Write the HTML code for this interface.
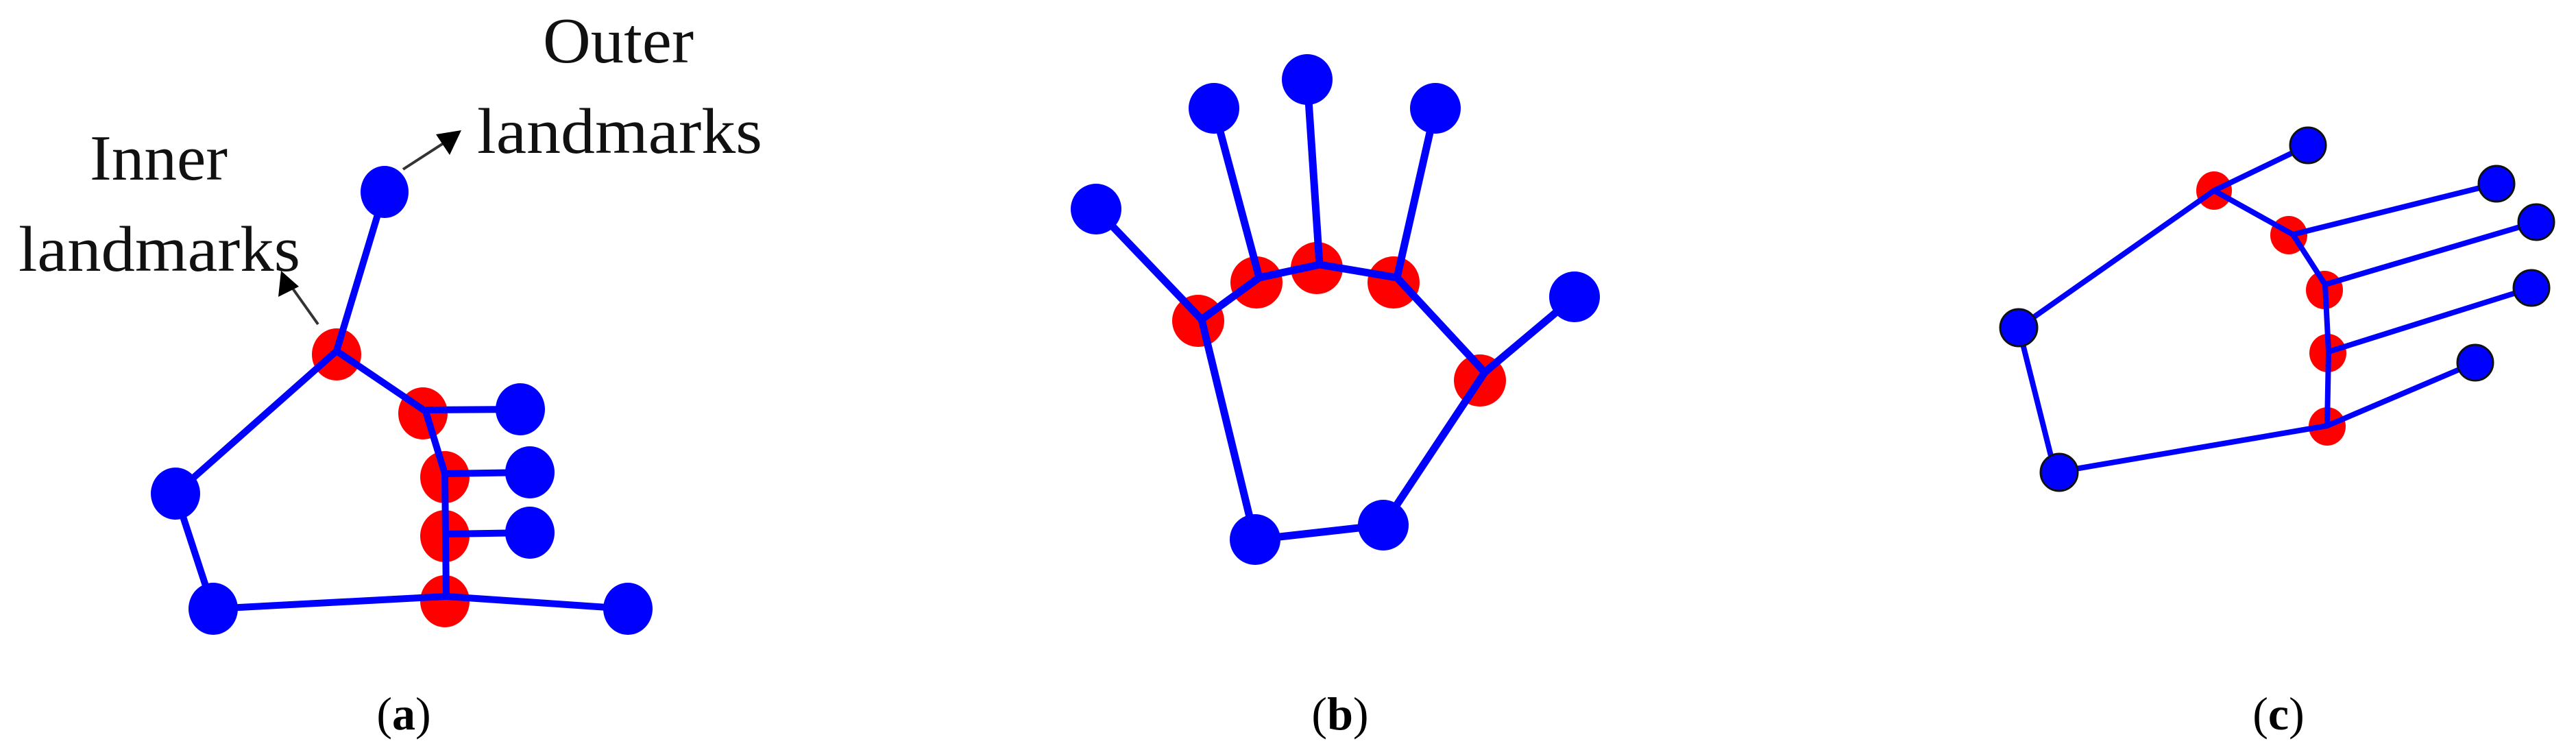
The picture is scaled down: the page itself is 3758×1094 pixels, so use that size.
<!DOCTYPE html>
<html><head><meta charset="utf-8"><style>html,body{margin:0;padding:0;background:#fff}svg{display:block}</style></head>
<body>
<svg width="3758" height="1094" viewBox="0 0 3758 1094" xmlns="http://www.w3.org/2000/svg">
<g font-family="'Liberation Serif', serif" fill="#111">
<text x="792" y="91" font-size="94" textLength="220" lengthAdjust="spacingAndGlyphs">Outer</text>
<text x="696" y="223" font-size="94" textLength="416" lengthAdjust="spacingAndGlyphs">landmarks</text>
<text x="131" y="262" font-size="94" textLength="201" lengthAdjust="spacingAndGlyphs">Inner</text>
<text x="27" y="395" font-size="94" textLength="411" lengthAdjust="spacingAndGlyphs">landmarks</text>
</g>
<line x1="588" y1="247" x2="650" y2="207" stroke="#333" stroke-width="4"/>
<polygon points="673,190 636,196 656,226" fill="#000"/>
<line x1="464" y1="473" x2="425" y2="418" stroke="#333" stroke-width="4"/>
<polygon points="410,395 406,433 436,418" fill="#000"/>

<g fill="#ff0000">
<ellipse cx="491" cy="517" rx="36" ry="38"/>
<ellipse cx="617" cy="603" rx="36" ry="38"/>
<ellipse cx="649" cy="696" rx="36" ry="38"/>
<ellipse cx="649" cy="782" rx="36" ry="38"/>
<ellipse cx="649" cy="877" rx="36" ry="38"/>
</g>
<g stroke="#0000ff" stroke-width="10" fill="none" stroke-linejoin="round">
<polyline points="491,512 621,600 649,691 651,870"/>
<polyline points="491,512 256,720 311,888"/>
<line x1="561" y1="280" x2="491" y2="512"/>
<line x1="311" y1="888" x2="651" y2="870"/>
<line x1="651" y1="870" x2="916" y2="888"/>
<line x1="621" y1="598" x2="759" y2="597"/>
<line x1="649" y1="691" x2="773" y2="689"/>
<line x1="651" y1="779" x2="773" y2="777"/>
</g>
<g fill="#0000ff">
<ellipse cx="561" cy="280" rx="35" ry="38"/>
<ellipse cx="759" cy="597" rx="36" ry="38"/>
<ellipse cx="773" cy="689" rx="36" ry="38"/>
<ellipse cx="773" cy="777" rx="36" ry="38"/>
<ellipse cx="256" cy="720" rx="36" ry="38"/>
<ellipse cx="311" cy="888" rx="36" ry="38"/>
<ellipse cx="916" cy="888" rx="36" ry="38"/>
</g>

<g fill="#ff0000">
<circle cx="1748" cy="468" r="38"/>
<circle cx="1833" cy="412" r="38"/>
<circle cx="1921" cy="391" r="38"/>
<circle cx="2033" cy="412" r="38"/>
<circle cx="2159" cy="555" r="38"/>
</g>
<g stroke="#0000ff" stroke-width="11" fill="none" stroke-linejoin="round">
<polyline points="1599,305 1753,466 1837,405 1925,386 2038,405 2166,543 2297,433"/>
<line x1="1771" y1="158" x2="1837" y2="405"/>
<line x1="1907" y1="116" x2="1925" y2="386"/>
<line x1="2094" y1="158" x2="2038" y2="405"/>
<polyline points="2166,543 2018,766 1831,787 1753,466"/>
</g>
<g fill="#0000ff">
<circle cx="1599" cy="305" r="37"/>
<circle cx="1771" cy="158" r="37"/>
<circle cx="1907" cy="116" r="37"/>
<circle cx="2094" cy="158" r="37"/>
<circle cx="2297" cy="433" r="37"/>
<circle cx="1831" cy="787" r="37"/>
<circle cx="2018" cy="766" r="37"/>
</g>

<g fill="#ff0000">
<ellipse cx="3230" cy="278" rx="26" ry="28"/>
<ellipse cx="3339" cy="343" rx="27" ry="28"/>
<ellipse cx="3391" cy="423" rx="27" ry="28"/>
<ellipse cx="3396" cy="515" rx="27" ry="28"/>
<ellipse cx="3395" cy="622" rx="27" ry="28"/>
</g>
<g stroke="#0000ff" stroke-width="8" fill="none" stroke-linejoin="round">
<polyline points="2945,478 3230,278 3367,212"/>
<polyline points="3230,278 3345,342 3392,415 3397,513 3395,621 2998,689 2945,478"/>
<line x1="3345" y1="342" x2="3642" y2="268"/>
<line x1="3392" y1="415" x2="3700" y2="324"/>
<line x1="3397" y1="513" x2="3693" y2="420"/>
<line x1="3395" y1="621" x2="3611" y2="529"/>
</g>
<g fill="#0000ff" stroke="#111" stroke-width="3">
<circle cx="3367" cy="212" r="26"/>
<circle cx="3642" cy="268" r="26"/>
<circle cx="3700" cy="324" r="26"/>
<circle cx="3693" cy="420" r="26"/>
<circle cx="3611" cy="529" r="26"/>
<circle cx="2945" cy="478" r="27"/>
<circle cx="3004" cy="689" r="27"/>
</g>

<g font-family="'Liberation Serif', serif" font-size="68" fill="#000" text-anchor="middle">
<text x="589" y="1064">(<tspan font-weight="bold">a</tspan>)</text>
<text x="1955" y="1064">(<tspan font-weight="bold">b</tspan>)</text>
<text x="3324" y="1064">(<tspan font-weight="bold">c</tspan>)</text>
</g>
</svg>
</body></html>
